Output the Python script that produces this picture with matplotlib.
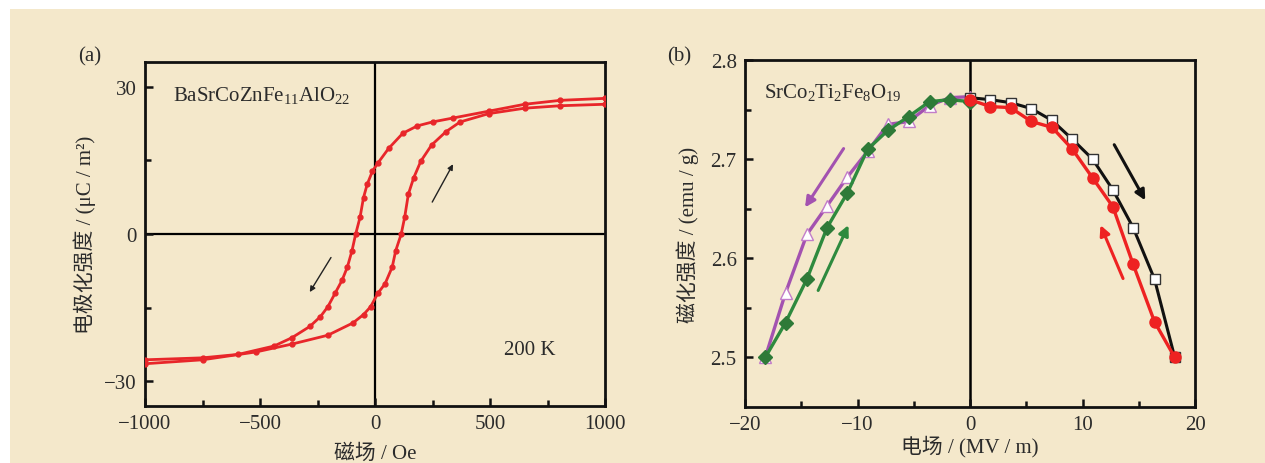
import numpy as np
import matplotlib.pyplot as plt

plt.rcParams['font.family'] = ['Liberation Serif', 'Noto Sans CJK SC']
plt.rcParams['mathtext.fontset'] = 'custom'
plt.rcParams['mathtext.rm'] = 'Liberation Serif'
plt.rcParams['mathtext.it'] = 'Liberation Serif:italic'
plt.rcParams['mathtext.default'] = 'rm'
plt.rcParams['axes.unicode_minus'] = True

BG = '#f4e8cb'
TXT = '#2b2b2b'

# (a) 电极化强度 - 磁场 回线
h_down = [1000, 806, 651, 495, 339, 250, 184, 121, 59, 12, -11, -34, -50, -65, -84,
          -100, -120, -143, -174, -205, -237, -283, -361, -439, -595, -750, -1000]
p_down = [27.6, 27.2, 26.4, 25.0, 23.6, 22.8, 22.0, 20.5, 17.4, 14.4, 12.8, 10.1, 7.4, 3.4, 0.0,
          -3.4, -6.7, -9.4, -12.1, -14.8, -16.8, -18.8, -21.1, -22.8, -24.5, -25.2, -25.6]
h_up = [-1000, -750, -517, -361, -205, -96, -50, -19, 12, 44, 75, 90, 114,
        129, 145, 168, 199, 246, 308, 370, 495, 651, 806, 1000]
p_up = [-26.4, -25.6, -24.0, -22.4, -20.6, -18.1, -16.4, -14.8, -12.1, -10.1, -6.7, -3.4, 0.0,
        3.4, 8.1, 11.4, 14.8, 18.1, 20.8, 22.8, 24.5, 25.6, 26.1, 26.4]

# (b) 磁化强度 - 电场
e_neg = [-18.2, -16.4, -14.5, -12.7, -10.9, -9.1, -7.3, -5.45, -3.6, -1.8, 0]
m_green = [2.500, 2.535, 2.579, 2.631, 2.666, 2.710, 2.729, 2.743, 2.758, 2.760, 2.758]
m_purple = [2.500, 2.565, 2.624, 2.653, 2.682, 2.708, 2.735, 2.738, 2.754, 2.762, 2.763]
e_pos = [0, 1.8, 3.6, 5.45, 7.3, 9.1, 10.9, 12.7, 14.5, 16.4, 18.2]
m_black = [2.762, 2.760, 2.757, 2.751, 2.739, 2.720, 2.700, 2.669, 2.631, 2.579, 2.500]
m_red = [2.760, 2.753, 2.752, 2.738, 2.732, 2.710, 2.681, 2.652, 2.594, 2.536, 2.500]

fig = plt.figure(figsize=(12.65, 4.64), dpi=100, facecolor='white')
fig.patches.append(plt.Rectangle((10 / 1265, 0), 1, 454 / 464, transform=fig.transFigure,
                                 facecolor=BG, edgecolor='none', zorder=-10))

ax1 = fig.add_axes([145 / 1265, 57 / 464, 460 / 1265, 344 / 464])
ax2 = fig.add_axes([745 / 1265, 56 / 464, 450 / 1265, 347 / 464])


def style(ax):
    ax.set_facecolor(BG)
    for s in ax.spines.values():
        s.set_linewidth(2.0)
        s.set_color('#111111')
    ax.tick_params(which='both', direction='in', top=False, right=False,
                   labelsize=15, colors='#111111', labelcolor=TXT, width=1.8)
    ax.tick_params(which='major', length=6, pad=6)
    ax.tick_params(which='minor', length=4)


# ---- (a)
style(ax1)
ax1.axhline(0, color='black', lw=1.6, zorder=1)
ax1.axvline(0, color='black', lw=1.6, zorder=1)
ax1.plot(h_down, p_down, '-o', color='#e8262a', lw=2.0, ms=3.5, zorder=3)
ax1.plot(h_up, p_up, '-o', color='#e8262a', lw=2.0, ms=3.5, zorder=3)
ax1.set_xlim(-1000, 1000)
ax1.set_ylim(-35, 35)
ax1.set_xticks([-1000, -500, 0, 500, 1000])
ax1.set_xticks(np.arange(-1000, 1001, 250), minor=True)
ax1.set_yticks([-30, 0, 30])
ax1.set_yticks([-15, 15], minor=True)
ax1.set_xlabel('磁场 / Oe', fontsize=15, color=TXT, labelpad=7)
ax1.set_ylabel('电极化强度 / (μC / m²)', fontsize=15, color=TXT, labelpad=6)
ax1.text(-880, 28.3, 'BaSrCoZnFe$_{11}$AlO$_{22}$', fontsize=15, color=TXT, va='center')
ax1.text(560, -23.5, '200 K', fontsize=15, color=TXT, va='center')
ax1.annotate('', xy=(-290, -12.3), xytext=(-185, -4.3),
             arrowprops=dict(arrowstyle='-|>', color='#222222', lw=1.0, mutation_scale=8))
ax1.annotate('', xy=(345, 14.7), xytext=(243, 6.0),
             arrowprops=dict(arrowstyle='-|>', color='#222222', lw=1.0, mutation_scale=8))
fig.text(78 / 1265, 1 - 57 / 464, '(a)', fontsize=15, color=TXT, va='center')

# ---- (b)
style(ax2)
ax2.axvline(0, color='black', lw=1.8, zorder=1)
ax2.plot(e_neg, m_purple, '-^', color='#a352b0', mfc='white', mec='#c27dc9', lw=2.4, ms=8,
         mew=1.0, zorder=3)
ax2.plot(e_neg, m_green, '-D', color='#2e8a3e', mfc='#2e7a38', mec='#2e7a38', lw=2.4, ms=7.5,
         zorder=4)
ax2.plot(e_pos, m_black, '-s', color='#111111', mfc='white', mec='#333333', lw=2.2, ms=7.5,
         mew=1.0, zorder=3)
ax2.plot(e_pos, m_red, '-o', color='#ee2222', mfc='#ee2222', mec='#ee2222', lw=2.4, ms=8,
         zorder=4)
ax2.set_xlim(-20, 20)
ax2.set_ylim(2.45, 2.8)
ax2.set_xticks([-20, -10, 0, 10, 20])
ax2.set_xticks(np.arange(-20, 21, 5), minor=True)
ax2.set_yticks([2.5, 2.6, 2.7, 2.8])
ax2.set_yticks([2.55, 2.65, 2.75], minor=True)
ax2.set_xlabel('电场 / (MV / m)', fontsize=15, color=TXT, labelpad=0)
ax2.set_ylabel('磁化强度 / (emu / g)', fontsize=15, color=TXT, labelpad=8)
ax2.text(-18.3, 2.768, 'SrCo$_2$Ti$_2$Fe$_8$O$_{19}$', fontsize=15, color=TXT, va='center')
for (x0, y0, x1, y1, c) in [(-11.1, 2.713, -14.8, 2.649, '#a352b0'),
                            (-13.6, 2.565, -10.7, 2.636, '#2e8a3e'),
                            (12.7, 2.717, 15.7, 2.656, '#111111'),
                            (13.7, 2.577, 11.5, 2.636, '#ee2222')]:
    ax2.annotate('', xy=(x1, y1), xytext=(x0, y0),
                 arrowprops=dict(arrowstyle='-|>', color=c, lw=2.2, mutation_scale=15))
fig.text(667 / 1265, 1 - 57 / 464, '(b)', fontsize=15, color=TXT, va='center')

fig.savefig('out.png', dpi=100, facecolor=fig.get_facecolor())
